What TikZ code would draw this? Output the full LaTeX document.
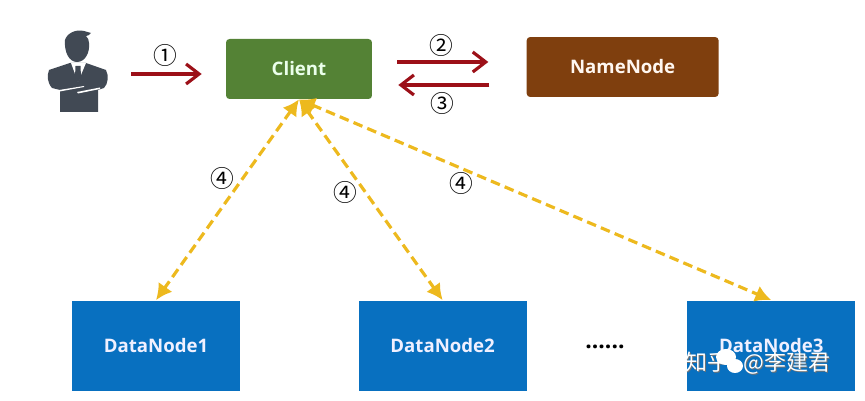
\documentclass[tikz,border=0pt]{standalone}
\usepackage{fontspec}
\setsansfont{Open Sans}
\newfontfamily\cjkfont{Noto Sans CJK SC}
\usetikzlibrary{arrows.meta, positioning, calc}
\definecolor{clientgreen}{HTML}{548235}
\definecolor{namebrown}{HTML}{7F3F0E}
\definecolor{datablue}{HTML}{0870C0}
\definecolor{arrowred}{HTML}{9C1018}
\definecolor{dashyellow}{HTML}{EDB91E}
\definecolor{usergray}{HTML}{414954}
\tikzset{
  base/.style = {
    minimum height=1.2cm, minimum width=2.92cm, inner sep=0pt,
    font=\sffamily\bfseries\fontsize{10.6}{12}\selectfont, text centered, rounded corners=2pt
  },
  client/.style = {
    base, fill=clientgreen, text=green!8
  },
  namenode/.style = {
    base, fill=namebrown, minimum width=3.84cm, text=orange!6
  },
  datanode/.style = {
    base, fill=datablue, minimum height=1.82cm, minimum width=3.36cm,
    rounded corners=0pt, text=blue!6
  },
  arrow/.style = {
    arrowred, line width=1.8pt, -{Straight Barb[length=2.6mm,width=4mm]}
  },
  dasharrow/.style = {
    dashyellow, line width=1.8pt, dash pattern=on 5.5pt off 3pt,
    {Latex[length=3.2mm,width=3.4mm]}-{Latex[length=3.2mm,width=3.4mm]}
  },
  step num/.style = {
    font=\cjkfont\fontsize{13.5}{16}\selectfont, inner sep=0pt
  },
  site mark/.style = {
    font=\cjkfont\fontsize{12.5}{14}\selectfont, anchor=west, inner sep=0pt
  }
}

\begin{document}
\begin{tikzpicture}[x=.02cm, y=-.02cm]
  \useasboundingbox (0,0) rectangle (865,401);

  % Top row
  \node[minimum width=1.2cm, minimum height=1.64cm, inner sep=0pt] (user) at (78,71) {};
  \node[client] (clientbox) at (299,69) {Client};
  \node[namenode, right=3.08cm of clientbox, yshift=.04cm] (name) {NameNode};

  % Bottom row
  \node[datanode] (data1) at (156,346) {DataNode1};
  \node[datanode, right=2.36cm of data1] (data2) {DataNode2};
  \node[datanode, right=3.2cm of data2] (data3) {DataNode3};
  \node[font=\sffamily\bfseries\fontsize{13}{13}\selectfont, inner sep=0pt] (dots) at (605,347) {......};

  % User icon
  \fill[usergray] (60,112) -- (60,90) -- (52,88) .. controls (47,82) and (47,76) .. (49,70)
    -- (70,63) -- (86,63) -- (106,70) .. controls (109,76) and (108,84) .. (104,88)
    -- (98,90) -- (98,112) -- cycle;
  \fill[white] (71,63) -- (86,63) -- (78,82) -- cycle;
  \fill[usergray] (75.5,66) -- (80.5,66) -- (81,77) -- (78,83) -- (75,77) -- cycle;
  \fill[white] (56,90.5) -- (84,86) -- (84,87) -- (57,92) -- cycle;
  \fill[white] (77,92) -- (100,87.5) -- (100,89) -- (78,93.5) -- cycle;
  \fill[usergray] (65,40) .. controls (67,33) and (76,29) .. (84,31) -- (91,33)
    .. controls (90,35) and (87,36) .. (86,36) .. controls (88,38) and (89,40) .. (89,43)
    .. controls (90,53) and (85,62) .. (77,62) .. controls (69,62) and (64,52) .. (65,40) -- cycle;

  % Arrows (top row)
  \draw[arrow, shorten >=.48cm, shorten <=.46cm]
    ([yshift=-.1cm]clientbox.west -| user.east) -- ([yshift=-.1cm]clientbox.west);
  \draw[arrow, shorten <=.5cm, shorten >=.76cm]
    ([yshift=.14cm]clientbox.east) -- ([yshift=.14cm]clientbox.east -| name.west);
  \draw[arrow, shorten <=.74cm, shorten >=.52cm]
    ([yshift=-.32cm]clientbox.east -| name.west) -- ([yshift=-.32cm]clientbox.east);

  % Arrows (down to the data nodes)
  \draw[dasharrow] (clientbox.south) -- (data1.north);
  \draw[dasharrow] (clientbox.south) -- (data2.north);
  \draw[dasharrow] (clientbox.south) -- (data3.north);

  % Step numbers
  \node[step num] (n1) at (165,55) {①};
  \node[step num] (n2) at (441,45) {②};
  \node[step num] (n3) at (442,103) {③};
  \node[step num] (n4a) at (222,178) {④};
  \node[step num] (n4b) at (345,192) {④};
  \node[step num] (n4c) at (461,183) {④};

  % Site mark over the last box
  \node[site mark, text=black!55] (markshade) at (686.5,364.5) {知乎\hspace{.64em}@李建君};
  \node[site mark, text=white] (mark) at (685,363) {知乎\hspace{.64em}@李建君};
  \fill[white] (726,357) ellipse (10 and 8);
  \fill[white] (735,366) ellipse (8 and 7);
\end{tikzpicture}
\end{document}
